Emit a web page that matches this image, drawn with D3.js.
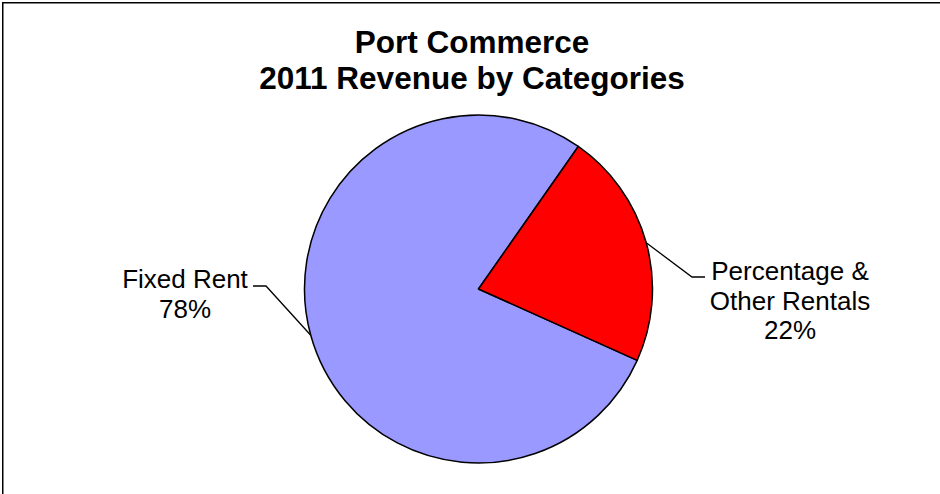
<!DOCTYPE html>
<html>
<head>
<meta charset="utf-8">
<script src="https://cdn.jsdelivr.net/npm/d3@7/dist/d3.min.js"></script>
<style>
  html, body { margin: 0; padding: 0; background: #fff; }
  svg { display: block; }
  text { font-family: Arial, "Liberation Sans", sans-serif; fill: #000; }
</style>
</head>
<body>
<svg id="chart" width="940" height="494"></svg>
<script>
// Revenue categories and their shares (percent)
const categories = ["Fixed Rent", "Percentage & Other Rentals"];
const values = [78, 22];
const colors = ["#9999FF", "#FF0000"];
// Label lines for each category (the percentage is appended from the value)
const labelLines = [["Fixed Rent"], ["Percentage &", "Other Rentals"]];
const titleLines = ["Port Commerce", "2011 Revenue by Categories"];

const W = 940, H = 494;
const cx = 478.5, cy = 289, R = 174;
const deg = Math.PI / 180;
// the second slice begins at 35° clockwise from 12 o'clock
const firstAngle = 35 * deg - (values[0] / d3.sum(values)) * 2 * Math.PI;

const svg = d3.select("#chart");

svg.append("rect")
  .attr("x", 0).attr("y", 0).attr("width", W).attr("height", H)
  .attr("fill", "#fff");

// chart frame
svg.append("rect")
  .attr("x", 2.75).attr("y", 2.75)
  .attr("width", W + 20).attr("height", H + 20)
  .attr("fill", "none").attr("stroke", "#000").attr("stroke-width", 1.5);

// title
const title = svg.append("text")
  .attr("x", 472).attr("text-anchor", "middle")
  .style("font-weight", "bold").style("font-size", "31.5px");
title.selectAll("tspan").data(titleLines).join("tspan")
  .attr("x", 472).attr("y", (d, i) => 52.5 + i * 36).text(d => d);

const data = categories.map((c, i) => ({ name: c, value: values[i], color: colors[i], lines: labelLines[i] }));
const total = d3.sum(values);

const pie = d3.pie().value(d => d.value).sort(null)
  .startAngle(firstAngle).endAngle(firstAngle + 2 * Math.PI);
const arcs = pie(data);
const arc = d3.arc().innerRadius(0).outerRadius(R);

const g = svg.append("g").attr("transform", `translate(${cx},${cy})`);
g.selectAll("path").data(arcs).join("path")
  .attr("d", arc)
  .attr("fill", d => d.data.color)
  .attr("stroke", "#000").attr("stroke-width", 1.5)
  .attr("stroke-linejoin", "round");

// label placement: text centre x, first baseline y, elbow/end of leader
const labelLayout = [
  { x: 185, y: 288, elbow: [266, 286], end: [253, 286] },
  { x: 790, y: 280, elbow: [692, 277], end: [705, 277] }
];
const fmt = d3.format(".0%");

arcs.forEach((a, i) => {
  const L = labelLayout[i];
  const mid = (a.startAngle + a.endAngle) / 2;
  const sx = cx + R * Math.sin(mid), sy = cy - R * Math.cos(mid);
  svg.append("polyline")
    .attr("points", [[sx, sy], L.elbow, L.end].map(p => p.join(",")).join(" "))
    .attr("fill", "none").attr("stroke", "#000").attr("stroke-width", 1.3);

  const lines = a.data.lines.concat([fmt(a.data.value / total)]);
  const t = svg.append("text").attr("text-anchor", "middle").style("font-size", "26px");
  t.selectAll("tspan").data(lines).join("tspan")
    .attr("x", L.x).attr("y", (d, j) => L.y + j * 29.5).text(d => d);
});
</script>
</body>
</html>
